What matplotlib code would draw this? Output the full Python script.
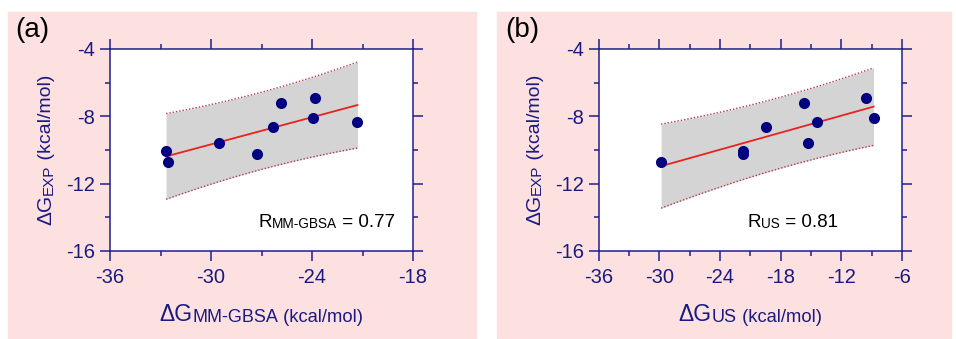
import numpy as np
import matplotlib
matplotlib.use("Agg")
import matplotlib.pyplot as plt
from matplotlib.patches import Rectangle
from matplotlib.ticker import MultipleLocator

plt.rcParams['font.family'] = ['Liberation Sans', 'DejaVu Sans']

# Experimental binding free energies (kcal/mol), one per ligand
dg_exp = [-10.06, -10.73, -9.60, -10.22, -8.65, -7.19, -8.12, -6.91, -8.32]
# Computed binding free energies (kcal/mol) for the same ligands
dg_mmgbsa = [-32.67, -32.54, -29.54, -27.29, -26.33, -25.82, -23.92, -23.82, -21.30]
dg_us = [-21.68, -29.83, -15.31, -21.68, -19.50, -15.67, -8.81, -9.60, -14.42]

# Axis settings
xlim_a = (-36, -18)
xlim_b = (-36, -6)
ylim = (-16, -4)
xticks_a = [-36, -30, -24, -18]
xticks_b = [-36, -30, -24, -18, -12, -6]
yticks = [-16, -12, -8, -4]

# two-sided 95% Student t value for n - 2 = 7 degrees of freedom
T_95 = 2.365

NAVY = '#1e1e8c'
TEXT_NAVY = '#1a1a80'
PINK = '#fde1e1'

fig = plt.figure(figsize=(9.56, 3.39), dpi=100)
W, H = 956, 339

# pink panel backgrounds, kept behind the axes
fig.patches.append(Rectangle((8 / W, 1 - 338 / H), 468 / W, 326 / H,
                             transform=fig.transFigure, color=PINK, zorder=-10))
fig.patches.append(Rectangle((497 / W, 1 - 338 / H), 454 / W, 326 / H,
                             transform=fig.transFigure, color=PINK, zorder=-10))

ax_a = fig.add_axes([110 / W, 1 - 251 / H, 303 / W, 202 / H])
ax_b = fig.add_axes([598.7 / W, 1 - 251 / H, 303.3 / W, 202 / H])


def regression_panel(ax, x, y, xlim, xticks):
    x = np.asarray(x, float)
    y = np.asarray(y, float)
    n = len(x)
    slope, intercept = np.polyfit(x, y, 1)
    xm = x.mean()
    sxx = np.sum((x - xm) ** 2)
    resid = y - (slope * x + intercept)
    s = np.sqrt(np.sum(resid ** 2) / (n - 2))
    xs = np.linspace(x.min(), x.max(), 200)
    fit = slope * xs + intercept
    # 95% prediction band around the least-squares line
    half = T_95 * s * np.sqrt(1 + 1 / n + (xs - xm) ** 2 / sxx)

    ax.fill_between(xs, fit - half, fit + half, color='#d4d4d4', lw=0, zorder=1)
    ax.plot(xs, fit + half, color='#b23a48', lw=1.0, ls=(0, (1, 1.4)), zorder=2)
    ax.plot(xs, fit - half, color='#b23a48', lw=1.0, ls=(0, (1, 1.4)), zorder=2)
    ax.plot(xs, fit, color='#e8231f', lw=1.3, zorder=3)
    ax.scatter(x, y, s=64, color='#000080', zorder=4, linewidths=0)

    ax.set_xlim(*xlim)
    ax.set_ylim(*ylim)
    ax.set_xticks(xticks)
    ax.set_yticks(yticks)
    ax.xaxis.set_minor_locator(MultipleLocator(3))
    ax.yaxis.set_minor_locator(MultipleLocator(2))
    ax.set_facecolor('white')
    for sp in ax.spines.values():
        sp.set_color(NAVY)
        sp.set_linewidth(1.1)
    ax.tick_params(which='both', direction='out', top=True, right=True,
                   color=NAVY, width=1.1, labelcolor=TEXT_NAVY, labelsize=14.5)
    ax.tick_params(which='major', length=7.2)
    ax.tick_params(which='minor', length=3.8)
    ax.tick_params(axis='x', which='major', pad=5)
    ax.tick_params(axis='y', which='major', pad=3.5)
    ax.set_xticklabels([f"{v:d}" for v in xticks])
    ax.set_yticklabels([f"{v:d}" for v in yticks])


regression_panel(ax_a, dg_mmgbsa, dg_exp, xlim_a, xticks_a)
regression_panel(ax_b, dg_us, dg_exp, xlim_b, xticks_b)


def x_label(ax, sub, ypos):
    t1 = ax.text(0.0, ypos, '\u0394G', transform=ax.transAxes, ha='left',
                 va='bottom', fontsize=16.5, color=TEXT_NAVY)
    t2 = ax.annotate(sub, xy=(1, 0), xycoords=t1, ha='left', va='bottom',
                     fontsize=13, color=TEXT_NAVY)
    t3 = ax.annotate(' (kcal/mol)', xy=(1, 0), xycoords=t2, ha='left',
                     va='bottom', fontsize=13.2, color=TEXT_NAVY)
    return [t1, t2, t3]


def y_label(ax, sub, xpos):
    t1 = ax.text(xpos, 0.0, '\u0394G', transform=ax.transAxes, ha='right',
                 va='bottom', rotation=90, fontsize=15, color=TEXT_NAVY)
    t2 = ax.annotate(sub, xy=(1, 1), xycoords=t1, ha='right', va='bottom',
                     rotation=90, fontsize=11, color=TEXT_NAVY)
    t3 = ax.annotate(' (kcal/mol)', xy=(1, 1), xycoords=t2, ha='right',
                     va='bottom', rotation=90, fontsize=14, color=TEXT_NAVY)
    return [t1, t2, t3]


def r_label(ax, sub, value, xpos, ypos):
    t1 = ax.text(xpos, ypos, 'R', transform=ax.transAxes, ha='left',
                 va='baseline', fontsize=13.5, color='black')
    t2 = ax.annotate(sub, xy=(1, 0), xycoords=t1, ha='left', va='bottom',
                     fontsize=9.8, color='black')
    ax.annotate(f' = {value}', xy=(1, 0), xycoords=(t2, t1), ha='left',
                va='bottom', fontsize=13.5, color='black')


xl_a = x_label(ax_a, 'MM-GBSA', -0.373)
xl_b = x_label(ax_b, 'US', -0.373)
yl_a = y_label(ax_a, 'EXP', -0.180)
yl_b = y_label(ax_b, 'EXP', -0.180)

r_label(ax_a, 'MM-GBSA', '0.77', 0.489, 0.120)
r_label(ax_b, 'US', '0.81', 0.492, 0.118)

fig.text(15 / W, 1 - 37 / H, '(a)', ha='left', va='baseline', fontsize=20,
         color='black')
fig.text(505 / W, 1 - 37 / H, '(b)', ha='left', va='baseline', fontsize=20,
         color='black')

# center the composite axis labels on their axes
fig.canvas.draw()
renderer = fig.canvas.get_renderer()
for ax, parts in ((ax_a, xl_a), (ax_b, xl_b)):
    x0 = parts[0].get_window_extent(renderer).x0
    x1 = parts[-1].get_window_extent(renderer).x1
    axbb = ax.get_window_extent(renderer)
    shift = (axbb.x0 + axbb.x1) / 2 - (x0 + x1) / 2
    px, py = parts[0].get_position()
    parts[0].set_position((px + shift / axbb.width, py))
for ax, parts in ((ax_a, yl_a), (ax_b, yl_b)):
    y0 = parts[0].get_window_extent(renderer).y0
    y1 = parts[-1].get_window_extent(renderer).y1
    axbb = ax.get_window_extent(renderer)
    shift = (axbb.y0 + axbb.y1) / 2 - (y0 + y1) / 2
    px, py = parts[0].get_position()
    parts[0].set_position((px, py + shift / axbb.height))

fig.savefig('out.png', dpi=100, facecolor='white')
